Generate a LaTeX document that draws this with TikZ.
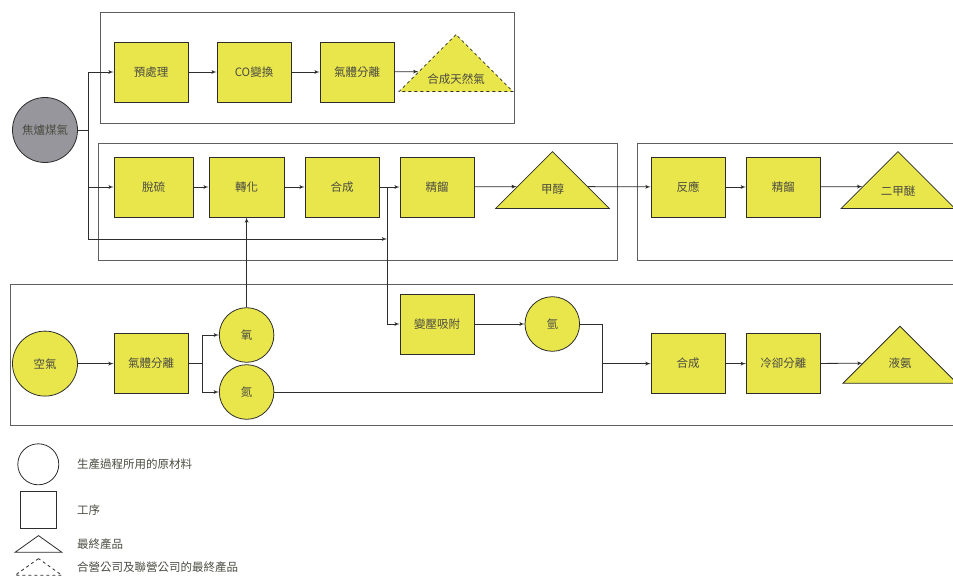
\documentclass[tikz,border=0pt]{standalone}
\usepackage{fontspec}
\setmainfont{Noto Sans CJK TC}
\usetikzlibrary{arrows,shapes.geometric,calc}

\definecolor{procyellow}{RGB}{233,230,76}
\definecolor{gasgray}{RGB}{150,150,156}
\definecolor{linegray}{RGB}{45,45,45}
\definecolor{framegray}{RGB}{95,95,95}
\definecolor{labelgray}{RGB}{75,75,65}

\begin{document}
\begin{tikzpicture}[x=1pt,y=-1pt,
    every node/.style={font=\fontsize{11.5}{13}\selectfont, text=labelgray},
    proc/.style={rectangle, draw=linegray, fill=procyellow, line width=0.8pt, minimum width=74pt, minimum height=60pt, inner sep=0pt},
    raw/.style={circle, draw=linegray, fill=procyellow, line width=0.8pt, minimum size=54.6pt, inner sep=0pt},
    prod/.style={isosceles triangle, isosceles triangle apex angle=90, shape border rotate=90, draw=linegray, fill=procyellow, line width=0.8pt, minimum width=57pt, minimum height=57pt, inner sep=0pt},
    jvprod/.style={prod, dashed},
    legtext/.style={anchor=west, inner sep=0pt},
    group/.style={draw=framegray, line width=1pt},
    flow/.style={draw=linegray, line width=0.8pt},
    arr/.style={flow, -latex'}]

        \useasboundingbox (0,0) rectangle (953,577);

        %===========================
        % Frames
        %===========================

        \draw[group] (100,13) rectangle (514,124);
        \draw[group] (98.3,143.3) rectangle (617.3,261);
        \draw[group] (637.7,143.3) rectangle (965,261);
        \draw[group] (10.7,285) rectangle (965,425.7);


        %===========================
        % Coke oven gas
        %===========================
        \draw node (gas) at (45,130) [raw, fill=gasgray, minimum size=65pt]{焦爐煤氣};

        \coordinate (tk1) at (88,72);
        \coordinate (tk3) at (88,239);
        \coordinate (hsplit) at (387,187);

        \draw[flow] (gas) -- (tk1 |- gas);
        \draw[flow] (tk1) -- (tk3);

        % Natural gas line
        \draw node (ycl) at (151,72) [proc]{預處理};
        \draw[arr] (tk1) -- (ycl);
        \draw node (cob) at (254,72) [proc]{CO變換};
        \draw[arr] (ycl) -- (cob);
        \draw node (qf1) at (357,72) [proc]{氣體分離};
        \draw[arr] (cob) -- (qf1);
        \draw node (sng) at (456,92) [jvprod, anchor=lower side]{合成天然氣};
        \coordinate (sngin) at ($(sng.left corner)!0.351!(sng.apex)$);
        \draw[arr] (qf1) -- (sngin);

        % Methanol line
        \draw node (ts) at (153.6,187) [proc, minimum width=79pt]{脫硫};
        \draw[arr] (tk1 |- ts) -- (ts);
        \draw node (zh) at (246.6,187) [proc, minimum width=75pt]{轉化};
        \draw[arr] (ts) -- (zh);
        \draw node (hc) at (342,187) [proc]{合成};
        \draw[arr] (zh) -- (hc);
        \draw node (jl) at (437,187) [proc]{精餾};
        \draw[arr] (hc) -- (jl);
        \draw node (jc) at (552.5,209) [prod, anchor=lower side]{甲醇};
        \coordinate (jcin) at ($(jc.left corner)!0.386!(jc.apex)$);
        \coordinate (jcout) at ($(jc.right corner)!0.386!(jc.apex)$);
        \draw[arr] (jl) -- (jcin);
        \draw[arr] (tk3) -- (tk3 -| hsplit);

        % Dimethyl ether line
        \draw node (fy) at (688,187) [proc]{反應};
        \draw[arr] (jcout) -- (fy);
        \draw node (jl2) at (783.3,187) [proc]{精餾};
        \draw[arr] (fy) -- (jl2);
        \draw node (dme) at (898,209) [prod, anchor=lower side]{二甲醚};
        \coordinate (dmein) at ($(dme.left corner)!0.386!(dme.apex)$);
        \draw[arr] (jl2) -- (dmein);


        %===========================
        % Air and ammonia
        %===========================
        \draw node (air) at (45,363.6) [raw, minimum size=65pt]{空氣};
        \draw node (qf2) at (151,363.6) [proc]{氣體分離};
        \draw[arr] (air) -- (qf2);

        \coordinate (qsp) at (202.3,363.6);
        \draw node (o2) at (246.6,335) [raw]{氧};
        \draw node (n2) at (246.6,392) [raw]{氮};
        \draw[flow] (qf2) -- (qsp);
        \draw[arr] (qsp) |- (o2);
        \draw[arr] (qsp) |- (n2);
        \draw[arr] (o2) -- (zh);

        \draw node (bya) at (437,324) [proc]{變壓吸附};
        \draw[arr] (hsplit) |- (bya);
        \draw node (h2) at (552.3,324) [raw]{氫};
        \draw[arr] (bya) -- (h2);

        \coordinate (hm) at (602,363.6);
        \draw[flow] (h2) -| (hm);
        \draw[flow] (n2) -| (hm);

        \draw node (hc2) at (688,363.6) [proc]{合成};
        \draw[arr] (hm) -- (hc2);
        \draw node (lq) at (783.3,363.6) [proc]{冷卻分離};
        \draw[arr] (hc2) -- (lq);
        \draw node (nh3) at (900,383.7) [prod, anchor=lower side]{液氨};
        \coordinate (nh3in) at ($(nh3.left corner)!0.353!(nh3.apex)$);
        \draw[arr] (lq) -- (nh3in);


        %===========================
        % Legend
        %===========================
        \draw node (lgraw) at (38.3,464.3) [circle, draw=linegray, line width=0.8pt, minimum size=41pt]{};
        \node (lgrawt) at (77,464.3) [legtext]{生產過程所用的原材料};
        \draw node (lgproc) at (38.7,510.3) [rectangle, draw=linegray, line width=0.8pt, minimum width=36pt, minimum height=37pt]{};
        \node (lgproct) at (77,510.3) [legtext]{工序};
        \draw node (lgprod) at (38.5,552.7) [prod, fill=none, isosceles triangle apex angle=109, minimum width=16.7pt, minimum height=16.7pt, anchor=lower side]{};
        \node (lgprodt) at (77,544.3) [legtext]{最終產品};
        \draw node (lgjv) at (38.5,575.7) [jvprod, fill=none, isosceles triangle apex angle=109, minimum width=16.7pt, minimum height=16.7pt, anchor=lower side]{};
        \node (lgjvt) at (77,566.7) [legtext]{合營公司及聯營公司的最終產品};
\end{tikzpicture}
\end{document}
